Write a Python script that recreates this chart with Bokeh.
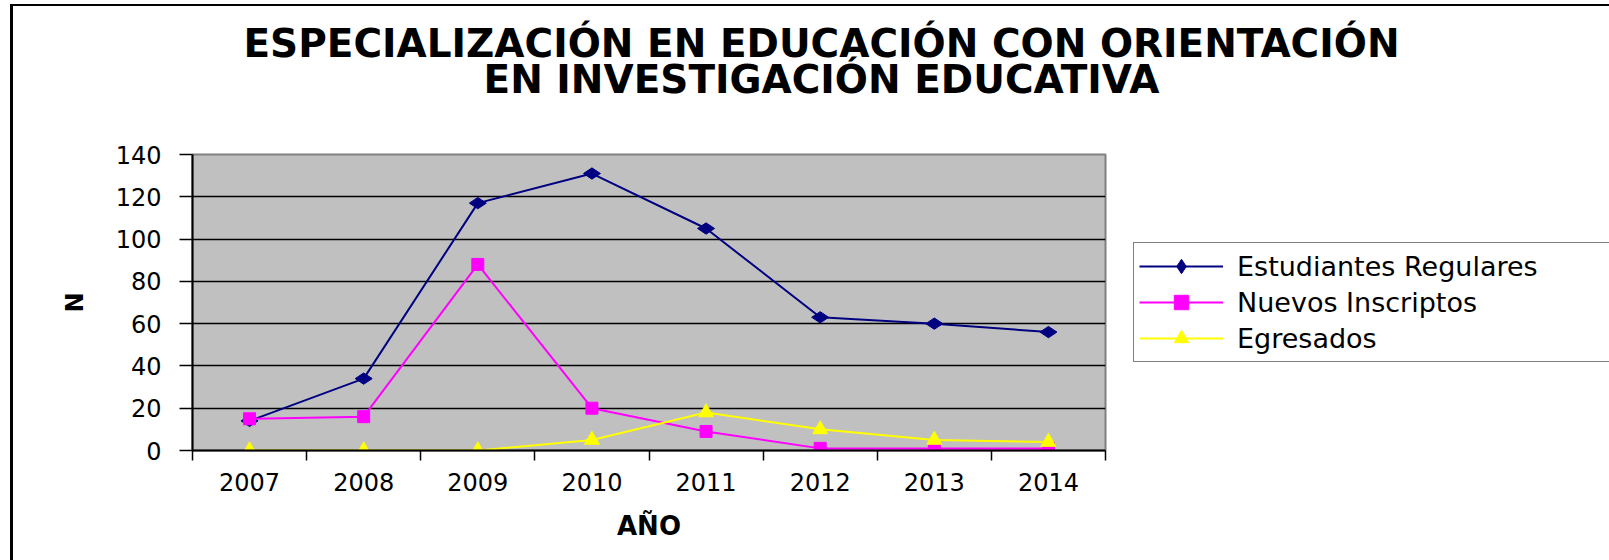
import math
from bokeh.plotting import figure
from bokeh.layouts import column, row
from bokeh.models import FixedTicker, Legend, LegendItem, Label, Range1d
from bokeh.embed import file_html
from bokeh.resources import INLINE

# ---- data ----
years = [2007, 2008, 2009, 2010, 2011, 2012, 2013, 2014]
regulares = [14, 34, 117, 131, 105, 63, 60, 56]
inscriptos = [15, 16, 88, 20, 9, 1, 1, 1]
egresados = [0, 0, 0, 5, 18, 10, 5, 4]
series_names = ["Estudiantes Regulares", "Nuevos Inscriptos", "Egresados"]
y_ticks = [0, 20, 40, 60, 80, 100, 120, 140]
title_lines = ["ESPECIALIZACIÓN EN EDUCACIÓN CON ORIENTACIÓN",
               "EN INVESTIGACIÓN EDUCATIVA"]
x_title = "AÑO"
y_title = "N"

FONT = "DejaVu Sans"
TOTAL_W = 1596
TITLE_H = 128
MAIN_H = 426
MAIN_W = 1097
LEG_W = TOTAL_W - MAIN_W

colors = ["#000080", "#FF00FF", "#FFFF00"]
markers = [("diamond", 17, math.pi / 2), ("square", 12, 0.0), ("triangle", 15, 0.0)]
series = [regulares, inscriptos, egresados]


def blank_figure(w, h):
    f = figure(width=w, height=h, output_backend="svg", toolbar_location=None,
               x_range=Range1d(0, 1), y_range=Range1d(0, 1),
               x_axis_location=None, y_axis_location=None,
               min_border=0, outline_line_color=None,
               background_fill_color="white", border_fill_color="white")
    f.xgrid.visible = False
    f.ygrid.visible = False
    return f


# ---------------- title strip ----------------
t = blank_figure(TOTAL_W, TITLE_H)
for txt, ty in [(title_lines[0], 91), (title_lines[1], 55)]:
    t.add_layout(Label(x=808, y=ty, x_units="screen", y_units="screen", text=txt,
                       text_align="center", text_baseline="middle",
                       text_font=FONT, text_font_style="bold",
                       text_font_size="39px", text_color="black"))

# ---------------- main plot ----------------
p = figure(width=MAIN_W, height=MAIN_H, output_backend="svg", toolbar_location=None,
           x_range=Range1d(years[0] - 0.5, years[-1] + 0.5),
           y_range=Range1d(y_ticks[0], y_ticks[-1]),
           min_border_left=179, min_border_right=5,
           min_border_top=20, min_border_bottom=110,
           background_fill_color="#C0C0C0", border_fill_color="white",
           outline_line_color="#808080", outline_line_width=2)

xa = p.xaxis[0]
xa.ticker = FixedTicker(ticks=years,
                        minor_ticks=[y - 0.5 for y in years] + [years[-1] + 0.5])
xa.major_tick_line_color = None
xa.major_tick_out = 0
xa.major_tick_in = 0
xa.minor_tick_line_color = "black"
xa.minor_tick_line_width = 1.5
xa.minor_tick_out = 10
xa.minor_tick_in = 0
xa.axis_line_color = "black"
xa.axis_line_width = 2
xa.major_label_text_font = FONT
xa.major_label_text_font_size = "24px"
xa.major_label_text_color = "black"
xa.major_label_standoff = 12
xa.axis_label = x_title
xa.axis_label_text_font = FONT
xa.axis_label_text_font_style = "bold"
xa.axis_label_text_font_size = "26px"
xa.axis_label_text_color = "black"
xa.axis_label_standoff = 17

ya = p.yaxis[0]
ya.ticker = FixedTicker(ticks=y_ticks, minor_ticks=[])
ya.major_tick_line_color = "black"
ya.major_tick_line_width = 1.5
ya.major_tick_out = 13
ya.major_tick_in = 0
ya.minor_tick_line_color = None
ya.axis_line_color = "black"
ya.axis_line_width = 2
ya.major_label_text_font = FONT
ya.major_label_text_font_size = "24px"
ya.major_label_text_color = "black"
ya.major_label_standoff = 18
ya.axis_label = y_title
ya.axis_label_text_font = FONT
ya.axis_label_text_font_style = "bold"
ya.axis_label_text_font_size = "24px"
ya.axis_label_text_color = "black"
ya.axis_label_standoff = 24

p.xgrid.visible = False
p.ygrid.ticker = FixedTicker(ticks=y_ticks[1:-1])
p.ygrid.grid_line_color = "black"
p.ygrid.grid_line_width = 1.5

for vals, col, (mk, sz, ang) in zip(series, colors, markers):
    p.line(years, vals, line_color=col, line_width=2)
    p.scatter(years, vals, marker=mk, size=sz, angle=ang,
              fill_color=col, line_color=col)

# ---------------- legend panel ----------------
# (its proxy renderers lie outside this panel's ranges, so only the legend shows)
lg = blank_figure(LEG_W, MAIN_H)
items = []
for name, vals, col, (mk, sz, ang) in zip(series_names, series, colors, markers):
    ln = lg.line(years, vals, line_color=col, line_width=2)
    sc = lg.scatter(years, vals, marker=mk, size=sz, angle=ang,
                    fill_color=col, line_color=col)
    items.append(LegendItem(label=name, renderers=[ln, sc]))

legend = Legend(items=items, location=(23, 88), margin=0, padding=5, spacing=0,
                glyph_width=84, glyph_height=36, label_height=28, label_standoff=14,
                label_width=380,
                border_line_color="black", border_line_width=1.5,
                background_fill_color="white", background_fill_alpha=1.0,
                label_text_font=FONT, label_text_font_size="27px",
                label_text_color="black")
lg.add_layout(legend, "center")

layout = column(t, row(p, lg))
layout.styles = {"margin-left": "10px", "margin-top": "4px",
                 "border-left": "3px solid black", "border-top": "2px solid black"}

open("out.html", "w").write(file_html(layout, INLINE))
